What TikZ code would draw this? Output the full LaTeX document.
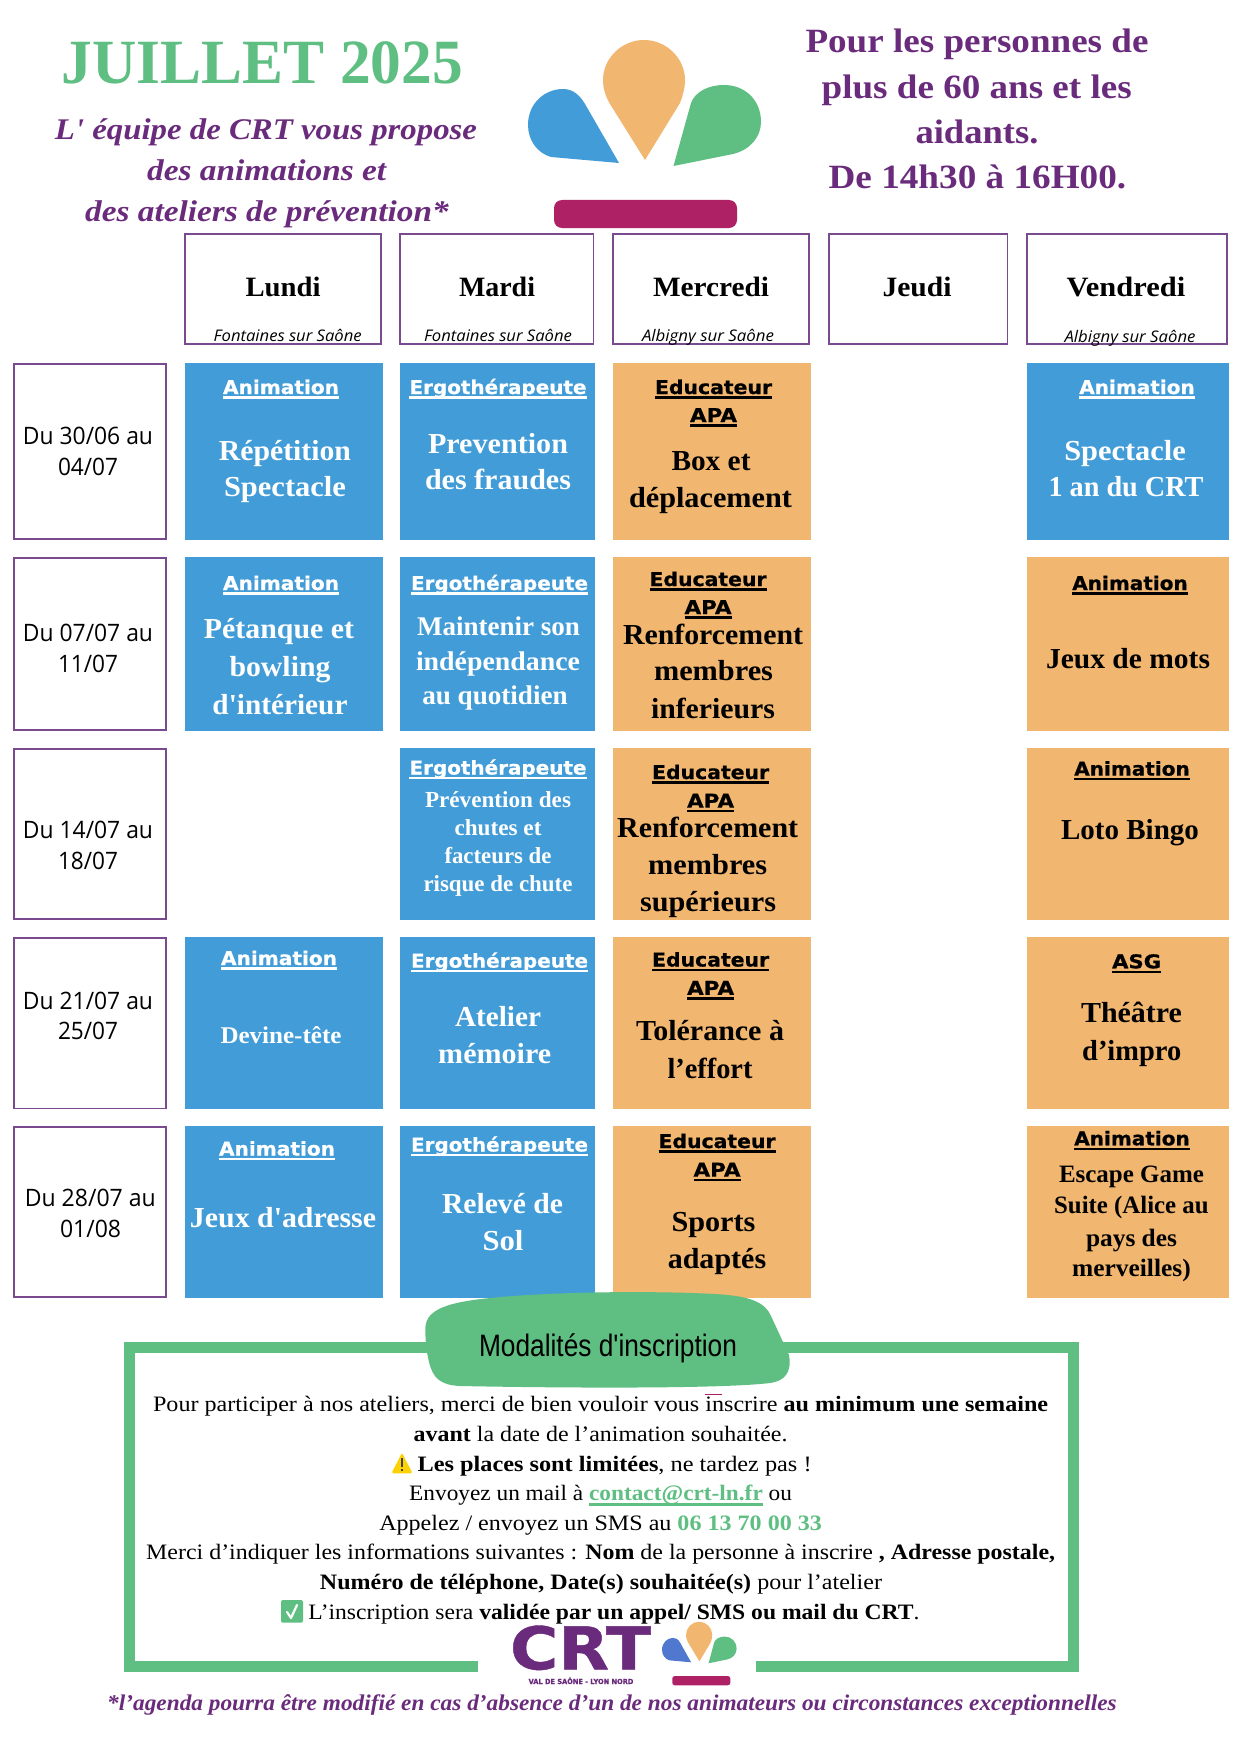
\documentclass[tikz,border=0pt]{standalone}
\usepackage{graphicx}
\usepackage{fontspec}
\setmainfont{Liberation Serif}
\newfontfamily\ser{Liberation Serif}
\newfontfamily\lab[BoldFeatures={FakeBold=0.7}]{DejaVu Sans}
\newfontfamily\opn{Open Sans}
\newfontfamily\lsans{Liberation Sans}
\definecolor{crtblue}{HTML}{419CD7}
\definecolor{crtorange}{HTML}{F1B66F}
\definecolor{crtgreen}{HTML}{5FBF82}
\definecolor{crtpurple}{HTML}{6A2B7C}
\definecolor{crtred}{HTML}{AE2165}
\definecolor{crtbox}{HTML}{7A4A8F}
\definecolor{crtsoft}{HTML}{5078CF}
\newcount\tlc
% one line of text: centre x, baseline y, width, font, text
\newcommand\tl[5]{\global\advance\tlc 1
  \node[tline] (txt\the\tlc) at (#1,#2) {\resizebox{#3pt}{\height}{#4#5}};}
\newcommand\uln[1]{\setbox0\hbox{#1}\copy0\llap{\vrule width\wd0 height -2.4pt depth 4.8pt}}
\newcommand\fs[1]{\fontsize{#1}{#1}\selectfont}
\newcommand\xcw{\bfseries\fs{29}\color{white}}
\newcommand\xcb{\bfseries\fs{29}\color{black}}
\newcommand\xlw{\lab\bfseries\fs{19}\color{white}}
\newcommand\xlk{\lab\bfseries\fs{19}\color{black}}
\newcommand\xdt{\opn\fs{24}\color{black}}
\newcommand\xhd{\bfseries\fs{28}\color{black}}
\newcommand\xsub{\opn\itshape\fs{16}\color{black}}
\newcommand\xbody{\fs{22}\color{black}}
\newcommand\xpu{\bfseries\fs{34}\color{crtpurple}}
\newcommand\xpi{\bfseries\itshape\fs{30}\color{crtpurple}}
% the three petals of the logo, given in page pixels of the large version
\newcommand\petals[1]{%
  \fill[crtorange] (645,160) -- (609.4,103) .. controls (605,95) and (603,88) .. (603,80)
     .. controls (603,58) and (622,40) .. (644,40) .. controls (666,40) and (685,58) .. (685,80)
     .. controls (685,88) and (683,95) .. (680,103) -- cycle;
  \fill[#1] (619,163) -- (585,104) .. controls (578,92) and (570,89) .. (563,89)
     .. controls (545,89) and (528,103) .. (528,125) .. controls (528,140) and (537,153) .. (551,157) -- cycle;
  \fill[crtgreen] (673.5,166) -- (691,103) .. controls (695,92) and (708,85) .. (724,85)
     .. controls (745,85) and (761,100) .. (761,122) .. controls (761,137) and (750,150) .. (733,154) -- cycle;}
\tikzset{
  tline/.style={anchor=base,inner sep=0pt,outer sep=0pt},
  boxed/.style={draw=crtbox,line width=1.8pt,fill=white},
  cellblue/.style={fill=crtblue},
  cellorange/.style={fill=crtorange},
}
\begin{document}
\begin{tikzpicture}[x=1pt,y=-1pt]
\useasboundingbox (0,0) rectangle (1241,1755);
\fill[white] (0,0) rectangle (1241,1755);

% top logo
\petals{crtblue}
\fill[crtred,rounded corners=8pt] (554,200) rectangle (737,228);

% titles
\tl{262.4}{83.3}{401}{\bfseries\fs{63}\color{crtgreen}}{JUILLET 2025}
\tl{266}{139.3}{422}{\xpi}{{\ser L' équipe} de CRT vous propose}
\tl{266.7}{180}{239}{\xpi}{des animations et}
\tl{267}{221.7}{363.5}{\xpi}{des ateliers de prévention*}
\tl{977}{52.7}{343}{\xpu}{Pour les personnes de}
\tl{976.7}{98.3}{310}{\xpu}{plus de 60 ans et les}
\tl{977}{143.3}{123}{\xpu}{aidants.}
\tl{977.4}{188.3}{297.6}{\xpu}{De 14h30 à 16H00.}

% header boxes
\path[boxed] (185,234) rectangle (381,344);
\path[boxed] (400,234) rectangle (593.5,344);
\path[boxed] (613,234) rectangle (809,344);
\path[boxed] (829,234) rectangle (1007.5,344);
\path[boxed] (1027,234) rectangle (1227,344);
\tl{283}{296}{75}{\xhd}{Lundi}
\tl{497}{296}{76}{\xhd}{Mardi}
\tl{711}{296}{116}{\xhd}{Mercredi}
\tl{917}{296}{69}{\xhd}{Jeudi}
\tl{1126}{296}{118.6}{\xhd}{Vendredi}
\tl{287.7}{341.7}{148}{\xsub}{Fontaines sur Saône}
\tl{498}{341.2}{148}{\xsub}{Fontaines sur Saône}
\tl{708}{341.7}{132}{\xsub}{Albigny sur Saône}
\tl{1130}{342.7}{131}{\xsub}{Albigny sur Saône}

% date boxes
\path[boxed] (14,364) rectangle (166,539);
\path[boxed] (14,558) rectangle (166,730);
\path[boxed] (14,749) rectangle (166,919);
\path[boxed] (14,938) rectangle (166,1108.5);
\path[boxed] (14,1127) rectangle (166,1297);
\tl{88}{444.7}{130}{\xdt}{Du 30/06 au}
\tl{88}{475}{60}{\xdt}{04/07}
\tl{88}{641.7}{130}{\xdt}{Du 07/07 au}
\tl{88}{672.3}{60}{\xdt}{11/07}
\tl{88}{838.9}{130}{\xdt}{Du 14/07 au}
\tl{88}{869.8}{60}{\xdt}{18/07}
\tl{88}{1009}{130}{\xdt}{Du 21/07 au}
\tl{88}{1039.9}{60}{\xdt}{25/07}
\tl{90.3}{1206}{131}{\xdt}{Du 28/07 au}
\tl{90.6}{1237}{61}{\xdt}{01/08}

% cells
\path[cellblue] (184.5,363) rectangle (382.5,540);
\path[cellblue] (399.5,363) rectangle (595,540);
\path[cellorange] (612.5,363) rectangle (810.5,540);
\path[cellblue] (1026.5,363) rectangle (1228.5,540);
\path[cellblue] (184.5,557) rectangle (382.5,731);
\path[cellblue] (399.5,557) rectangle (595,731);
\path[cellorange] (612.5,557) rectangle (810.5,731);
\path[cellorange] (1026.5,557) rectangle (1228.5,731);
\path[cellblue] (399.5,748) rectangle (595,920);
\path[cellorange] (612.5,748) rectangle (810.5,920);
\path[cellorange] (1026.5,748) rectangle (1228.5,920);
\path[cellblue] (184.5,937) rectangle (382.5,1109);
\path[cellblue] (399.5,937) rectangle (595,1109);
\path[cellorange] (612.5,937) rectangle (810.5,1109);
\path[cellorange] (1026.5,937) rectangle (1228.5,1109);
\path[cellblue] (184.5,1126) rectangle (382.5,1298);
\path[cellblue] (399.5,1126) rectangle (595,1298);
\path[cellorange] (612.5,1126) rectangle (810.5,1298);
\path[cellorange] (1026.5,1126) rectangle (1228.5,1298);

% row 1
\tl{281}{394}{116}{\xlw}{\uln{Animation}}
\tl{285}{460}{132}{\xcw}{Répétition}
\tl{285}{496.7}{122}{\xcw}{Spectacle}
\tl{498}{394}{177}{\xlw}{\uln{Ergothérapeute}}
\tl{498}{453}{140}{\xcw}{Prevention}
\tl{498}{489}{146}{\xcw}{des fraudes}
\tl{713.5}{394}{117}{\xlk}{\uln{Educateur}}
\tl{713.5}{422}{47}{\xlk}{\uln{APA}}
\tl{711}{470.7}{79}{\xcb}{Box et}
\tl{710.5}{507}{163}{\xcb}{déplacement}
\tl{1137}{394}{115.5}{\xlw}{\uln{Animation}}
\tl{1125}{460}{121.5}{\xcw}{Spectacle}
\tl{1126}{496.7}{155}{\xcw}{1 an du CRT}

% row 2
\tl{281}{590}{116}{\xlw}{\uln{Animation}}
\tl{279}{638}{150}{\xcw}{Pétanque et}
\tl{280}{676.7}{101}{\xcw}{bowling}
\tl{280}{714}{135}{\xcw}{{\ser d'}intérieur}
\tl{499.5}{590}{177}{\xlw}{\uln{Ergothérapeute}}
\tl{498.5}{635}{163}{\bfseries\fs{27}\color{white}}{Maintenir son}
\tl{498}{670}{164}{\bfseries\fs{27}\color{white}}{indépendance}
\tl{495}{704}{145.5}{\bfseries\fs{27}\color{white}}{au quotidien}
\tl{708}{586}{117}{\xlk}{\uln{Educateur}}
\tl{708}{614}{47}{\xlk}{\uln{APA}}
\tl{713}{644}{180}{\xcb}{Renforcement}
\tl{713.5}{680.7}{119}{\xcb}{membres}
\tl{713}{718}{124}{\xcb}{inferieurs}
\tl{1130}{590}{115.5}{\xlk}{\uln{Animation}}
\tl{1128}{668}{164}{\xcb}{Jeux de mots}

% row 3
\tl{498}{774.5}{177}{\xlw}{\uln{Ergothérapeute}}
\tl{498}{807}{146}{\bfseries\fs{23}\color{white}}{Prévention des}
\tl{498}{835}{87}{\bfseries\fs{23}\color{white}}{chutes et}
\tl{498}{863.6}{107}{\bfseries\fs{23}\color{white}}{facteurs de}
\tl{498}{891}{149}{\bfseries\fs{23}\color{white}}{risque de chute}
\tl{710.6}{779}{117}{\xlk}{\uln{Educateur}}
\tl{710.6}{807.6}{47}{\xlk}{\uln{APA}}
\tl{707.7}{837}{181}{\xcb}{Renforcement}
\tl{707.7}{874.5}{119}{\xcb}{membres}
\tl{708}{911.6}{136}{\xcb}{supérieurs}
\tl{1132}{775.6}{115.5}{\xlk}{\uln{Animation}}
\tl{1130}{839}{138}{\xcb}{Loto Bingo}

% row 4
\tl{279}{965}{116}{\xlw}{\uln{Animation}}
\tl{281}{1043.5}{121}{\bfseries\fs{24}\color{white}}{Devine-tête}
\tl{499.5}{967.6}{177}{\xlw}{\uln{Ergothérapeute}}
\tl{498}{1026.4}{86}{\xcw}{Atelier}
\tl{494.7}{1063.5}{113}{\xcw}{mémoire}
\tl{710.6}{966.5}{117}{\xlk}{\uln{Educateur}}
\tl{710.6}{994.8}{47}{\xlk}{\uln{APA}}
\tl{710}{1040.6}{148}{\xcb}{Tolérance à}
\tl{710}{1078}{85}{\xcb}{l’effort}
\tl{1136.6}{968.3}{49}{\xlk}{\uln{ASG}}
\tl{1131.5}{1022.8}{101}{\xcb}{Théâtre}
\tl{1131.7}{1060}{99}{\xcb}{d’impro}

% row 5
\tl{277}{1155.5}{116}{\xlw}{\uln{Animation}}
\tl{283}{1227}{186}{\xcw}{Jeux {\ser d'}adresse}
\tl{499.5}{1151.5}{177}{\xlw}{\uln{Ergothérapeute}}
\tl{502.5}{1213.6}{121}{\xcw}{Relevé de}
\tl{503}{1250.7}{41}{\xcw}{Sol}
\tl{717}{1148}{117}{\xlk}{\uln{Educateur}}
\tl{717}{1176.6}{47}{\xlk}{\uln{APA}}
\tl{713.5}{1231.5}{84}{\xcb}{Sports}
\tl{717}{1268}{98.5}{\xcb}{adaptés}
\tl{1132}{1145.3}{115.5}{\xlk}{\uln{Animation}}
\tl{1131.5}{1182.7}{145}{\bfseries\fs{25}\color{black}}{Escape Game}
\tl{1131.4}{1213.6}{154.5}{\bfseries\fs{25}\color{black}}{Suite (Alice au}
\tl{1131.5}{1246}{91}{\bfseries\fs{25}\color{black}}{pays des}
\tl{1131.4}{1276}{118.6}{\bfseries\fs{25}\color{black}}{merveilles)}

% inscription frame
\draw[crtgreen,line width=11pt,miter limit=10] (478,1666.5) -- (129.5,1666.5) -- (129.5,1347.5) -- (1073.5,1347.5) -- (1073.5,1666.5) -- (756,1666.5);
\fill[crtgreen] (425.3,1330) .. controls (425,1312) and (440,1303) .. (490,1298)
  .. controls (560,1291) and (660,1291) .. (715,1294)
  .. controls (750,1296) and (765,1302) .. (771,1316)
  -- (789,1355) .. controls (792,1372) and (785,1381) .. (770,1383)
  .. controls (720,1389) and (560,1388) .. (460,1386)
  .. controls (440,1385) and (433,1378) .. (429,1362)
  .. controls (426,1350) and (425.5,1340) .. (425.3,1330) -- cycle;
\tl{608}{1356}{258}{\lsans\fs{31}\color{black}}{Modalités d'inscription}

\draw[crtred,line width=1pt] (705,1394) -- (722,1394);
\tl{600.6}{1411.7}{895}{\xbody}{Pour participer à nos ateliers, merci de bien vouloir vous inscrire \textbf{au minimum une semaine}}
\tl{600.6}{1441.7}{373.7}{\xbody}{\textbf{avant} la date de l’animation souhaitée.}
\fill[rounded corners=1.5pt,fill=yellow!70!orange] (402,1452.7) -- (412.5,1473.3) -- (391.5,1473.3) -- cycle;
\fill[black!75] (401,1458) rectangle (403,1467);
\fill[black!75] (401,1468.5) rectangle (403,1471);
\tl{614.6}{1471}{394}{\xbody}{\textbf{Les places sont limitées}, ne tardez pas !}
\tl{600.6}{1500.7}{382.7}{\xbody}{Envoyez un mail à \textcolor{crtgreen}{\textbf{\uln{contact@crt-ln.fr}}} ou}
\tl{600.6}{1530}{442.6}{\xbody}{Appelez / envoyez un SMS au \textcolor{crtgreen}{\textbf{06 13 70 00 33}}}
\tl{600.7}{1559.3}{909}{\xbody}{Merci d’indiquer les informations suivantes : \textbf{Nom} de la personne à inscrire \textbf{, Adresse postale,}}
\tl{601}{1589.3}{562}{\xbody}{\textbf{Numéro de téléphone, Date(s) souhaitée(s)} pour l’atelier}
\fill[crtgreen,rounded corners=2pt] (281,1600) rectangle (303,1622.7);
\draw[white,line width=2.2pt,line cap=round,line join=round] (287,1612) -- (291,1618) -- (297,1605);
\tl{614}{1619.3}{611}{\xbody}{L’inscription sera \textbf{validée par un appel/ SMS ou mail du CRT}.}

% bottom logo
\tl{580.5}{1669.3}{141}{\lab\bfseries\fs{59}\color{crtpurple}}{CRT}
\tl{581}{1684}{104.7}{\lab\bfseries\fs{7}\color{crtpurple}}{VAL DE SAÔNE - LYON NORD}
\begin{scope}[shift={(493.04,1608.5)},xscale=0.32,yscale=0.33]
\petals{crtsoft}
\end{scope}
\fill[crtred,rounded corners=2.5pt] (672.3,1676) rectangle (730.3,1685.3);

% footnote
\tl{612}{1710}{1009.5}{\bfseries\itshape\fs{22.5}\color{crtpurple}}{*l’agenda pourra être modifié en cas d’absence d’un de nos animateurs ou circonstances exceptionnelles}
\end{tikzpicture}
\end{document}
